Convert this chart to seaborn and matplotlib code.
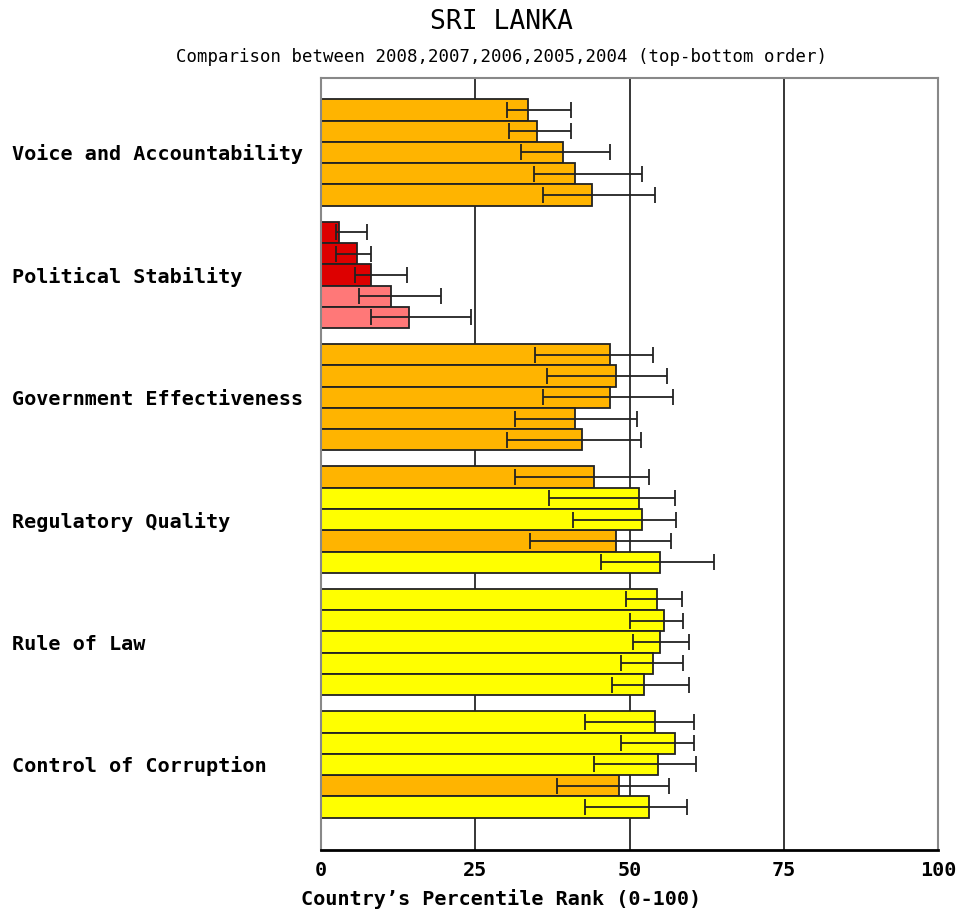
import numpy as np
import pandas as pd
import matplotlib
matplotlib.use("Agg")
import matplotlib.pyplot as plt
import seaborn as sns

categories = ["Voice and Accountability", "Political Stability", "Government Effectiveness",
              "Regulatory Quality", "Rule of Law", "Control of Corruption"]
years = [2008, 2007, 2006, 2005, 2004]

values = [
    [33.5, 35.0, 39.3, 41.1, 44.0],
    [2.9, 5.8, 8.1, 11.3, 14.2],
    [46.9, 47.8, 46.9, 41.1, 42.3],
    [44.3, 51.5, 52.1, 47.8, 54.9],
    [54.4, 55.6, 54.9, 53.8, 52.4],
    [54.1, 57.3, 54.7, 48.3, 53.2],
]
lower = [
    [30.1, 30.4, 32.4, 34.5, 35.9],
    [2.4, 2.5, 5.5, 6.1, 8.1],
    [34.7, 36.7, 35.9, 31.5, 30.1],
    [31.5, 37.0, 40.8, 33.8, 45.4],
    [49.4, 50.0, 50.6, 48.6, 47.1],
    [42.8, 48.6, 44.3, 38.2, 42.8],
]
upper = [
    [40.5, 40.5, 46.9, 52.0, 54.1],
    [7.5, 8.1, 13.9, 19.4, 24.3],
    [53.8, 56.1, 57.0, 51.2, 51.8],
    [53.2, 57.3, 57.6, 56.7, 63.7],
    [58.5, 58.7, 59.6, 58.7, 59.6],
    [60.4, 60.4, 60.8, 56.4, 59.3],
]
x_ticks = [0, 25, 50, 75, 100]

group_step = 5.75
rows = []
for i, cat in enumerate(categories):
    for j, yr in enumerate(years):
        v = values[i][j]
        if v < 10:
            band = "0-10"
        elif v < 25:
            band = "10-25"
        elif v < 50:
            band = "25-50"
        elif v < 75:
            band = "50-75"
        else:
            band = "75-100"
        rows.append(dict(category=cat, year=yr, value=v, lo=lower[i][j], hi=upper[i][j],
                         pos=i * group_step + j, band=band))
df = pd.DataFrame(rows)

palette = {"0-10": "#DD0000", "10-25": "#FF7878", "25-50": "#FFB400",
           "50-75": "#FFFF00", "75-100": "#00A000"}

sns.set_style("white")
plt.rcParams["font.family"] = ["DejaVu Sans Mono", "DejaVu Sans"]

fig = plt.figure(figsize=(9.58, 9.11), dpi=100)
ax = fig.add_axes([321 / 958, 1 - 850 / 911, (938 - 321) / 958, (850 - 78) / 911])

for t in x_ticks[1:-1]:
    ax.axvline(t, color="black", lw=1.1, zorder=0)

sns.barplot(data=df, x="value", y="pos", hue="band", palette=palette, orient="h",
            native_scale=True, dodge=False, width=1.0, edgecolor="#222222", linewidth=1.3,
            errorbar=None, legend=False, saturation=1, ax=ax)
for p in ax.patches:
    p.set_zorder(2)

ax.errorbar(df["value"], df["pos"],
            xerr=[df["value"] - df["lo"], df["hi"] - df["value"]],
            fmt="none", ecolor="#222222", elinewidth=1.3, capsize=5.5, capthick=1.3, zorder=5)

ax.set_xlim(0, 100)
ax.set_ylim(5 * group_step + 4 + 0.5 + 1.52, -1.5)

for s in ["top", "right", "left"]:
    ax.spines[s].set_color("#888888")
    ax.spines[s].set_linewidth(1.5)
ax.spines["bottom"].set_color("black")
ax.spines["bottom"].set_linewidth(2)
ax.spines["bottom"].set_zorder(6)

ax.set_xticks(x_ticks)
ax.set_xticklabels([str(t) for t in x_ticks], fontsize=14.5, fontweight="bold", color="black")
ax.tick_params(axis="x", direction="out", length=5, width=1.5, color="black", pad=3)

centers = [i * group_step + 2 for i in range(len(categories))]
ax.set_yticks(centers)
ax.set_yticklabels(categories, fontsize=14.5, fontweight="bold", color="black")
ax.tick_params(axis="y", length=0, pad=0)
for lab in ax.get_yticklabels():
    lab.set_horizontalalignment("left")
    lab.set_x(-309 / 617)

ax.set_ylabel("")
ax.set_xlabel("")
fig.text(501 / 958, 1 - 899 / 911, "Country\u2019s Percentile Rank (0-100)", ha="center",
         va="center", fontsize=14.5, fontweight="bold", color="black")

fig.text(501 / 958, 1 - 22 / 911, "SRI LANKA", ha="center", va="center",
         fontsize=19, color="black")
fig.text((170 + 832) / 2 / 958, 1 - 57 / 911,
         "Comparison between 2008,2007,2006,2005,2004 (top-bottom order)",
         ha="center", va="center", fontsize=12.5, color="black")

fig.savefig("out.png", dpi=100, facecolor="white")
